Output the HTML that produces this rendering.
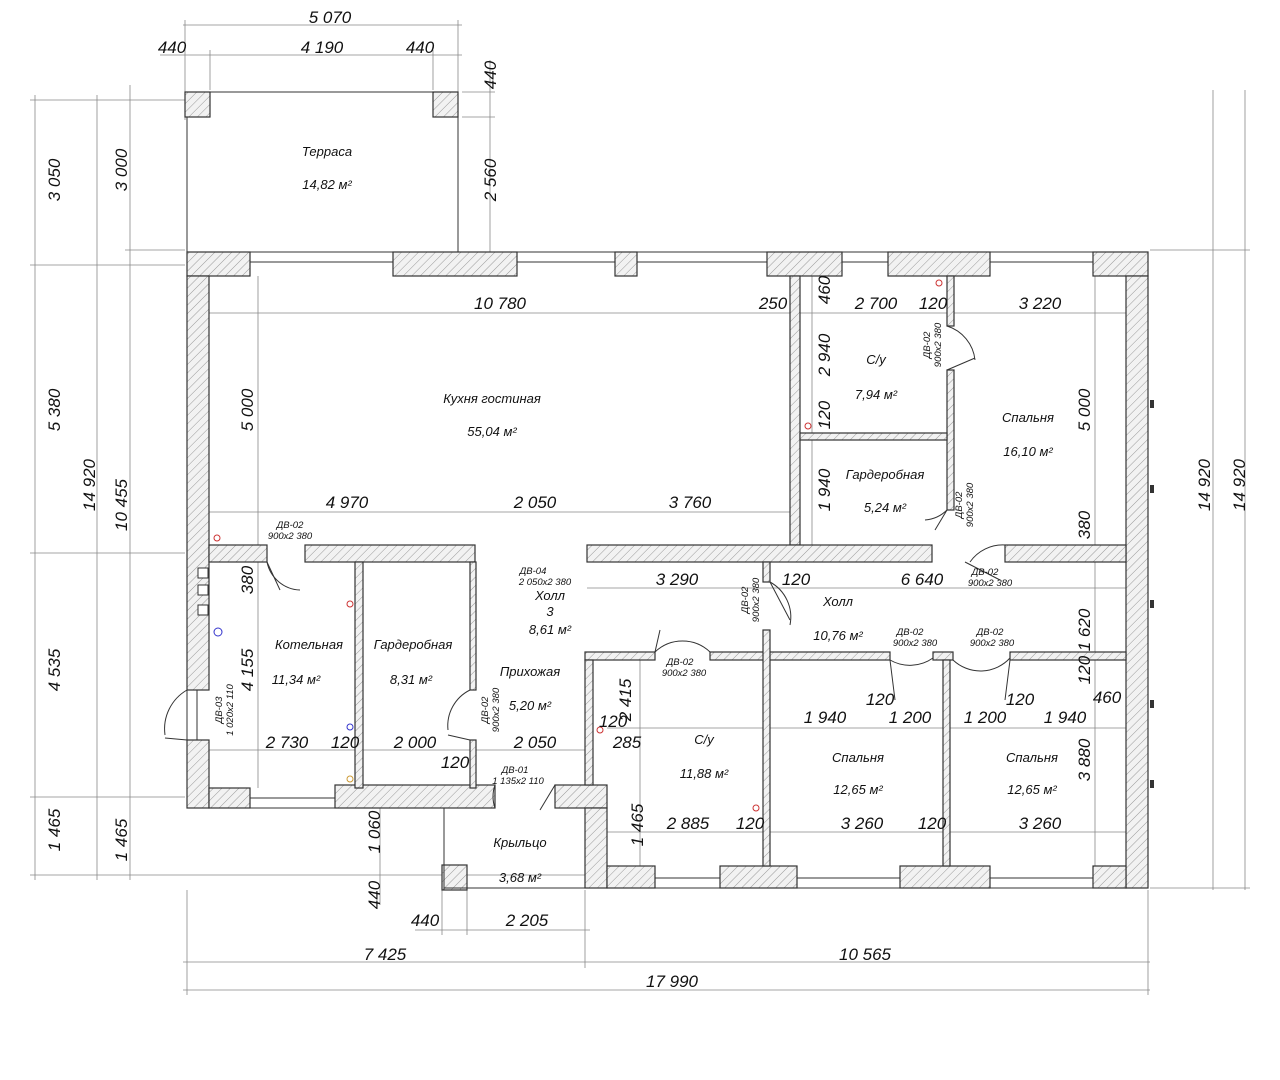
<!DOCTYPE html>
<html><head><meta charset="utf-8"><style>
html,body{margin:0;padding:0;background:#fff}
svg{display:block}
text{font-family:"Liberation Sans",sans-serif;font-style:italic;fill:#111}
.d{font-size:17px;text-anchor:middle}
.r{font-size:13px;text-anchor:middle}
.s{font-size:9.5px;text-anchor:middle}
.w{fill:url(#h);stroke:#333;stroke-width:1.2}
.l{stroke:#888;stroke-width:0.8;fill:none}
.k{stroke:#333;stroke-width:1;fill:none}
</style></head><body>
<svg width="1280" height="1080" viewBox="0 0 1280 1080" xmlns="http://www.w3.org/2000/svg">
<defs>
<pattern id="h" width="6" height="6" patternUnits="userSpaceOnUse" patternTransform="rotate(45)">
<rect width="6" height="6" fill="#f2f2f2"/><line x1="0" y1="0" x2="0" y2="6" stroke="#999" stroke-width="1"/>
</pattern>
</defs>

<g class="l">
<line x1="183" y1="25" x2="462" y2="25"/><line x1="160" y1="55" x2="462" y2="55"/>
<line x1="185" y1="20" x2="185" y2="120"/><line x1="210" y1="50" x2="210" y2="90"/><line x1="433" y1="50" x2="433" y2="90"/><line x1="458" y1="20" x2="458" y2="250"/>
<line x1="490" y1="60" x2="490" y2="252"/><line x1="462" y1="92" x2="495" y2="92"/><line x1="462" y1="117" x2="495" y2="117"/>
<line x1="35" y1="95" x2="35" y2="880"/><line x1="97" y1="95" x2="97" y2="880"/><line x1="130" y1="85" x2="130" y2="880"/>
<line x1="30" y1="100" x2="185" y2="100"/><line x1="30" y1="265" x2="185" y2="265"/><line x1="30" y1="553" x2="185" y2="553"/><line x1="30" y1="797" x2="185" y2="797"/><line x1="30" y1="875" x2="585" y2="875"/>
<line x1="125" y1="250" x2="185" y2="250"/>
<line x1="1213" y1="90" x2="1213" y2="890"/><line x1="1245" y1="90" x2="1245" y2="890"/>
<line x1="1150" y1="250" x2="1250" y2="250"/><line x1="1150" y1="888" x2="1250" y2="888"/>
<line x1="183" y1="962" x2="1150" y2="962"/><line x1="183" y1="990" x2="1150" y2="990"/>
<line x1="187" y1="890" x2="187" y2="995"/><line x1="585" y1="890" x2="585" y2="968"/><line x1="1148" y1="890" x2="1148" y2="995"/>
<line x1="415" y1="930" x2="590" y2="930"/><line x1="442" y1="890" x2="442" y2="935"/><line x1="467" y1="890" x2="467" y2="935"/>
<line x1="380" y1="800" x2="380" y2="905"/>
<line x1="209" y1="313" x2="1126" y2="313"/><line x1="209" y1="512" x2="790" y2="512"/>
<line x1="587" y1="588" x2="1126" y2="588"/><line x1="209" y1="750" x2="585" y2="750"/>
<line x1="607" y1="728" x2="1126" y2="728"/><line x1="607" y1="832" x2="1126" y2="832"/>
<line x1="258" y1="276" x2="258" y2="788"/><line x1="812" y1="276" x2="812" y2="545"/><line x1="1095" y1="276" x2="1095" y2="866"/>
<line x1="640" y1="655" x2="640" y2="866"/>
</g>

<g class="k">
<line x1="187" y1="92" x2="458" y2="92"/><line x1="187" y1="92" x2="187" y2="252"/><line x1="458" y1="92" x2="458" y2="252"/>
<rect x="185" y="92" width="25" height="25" class="w"/><rect x="433" y="92" width="25" height="25" class="w"/>
<rect x="442" y="865" width="25" height="25" class="w"/>
<line x1="444" y1="808" x2="444" y2="890"/><line x1="444" y1="888" x2="585" y2="888"/>
</g>

<g class="k">
<rect x="250" y="252" width="145" height="10"/><rect x="517" y="252" width="100" height="10"/><rect x="637" y="252" width="132" height="10"/>
<rect x="842" y="252" width="48" height="10"/><rect x="990" y="252" width="105" height="10"/>
<rect x="250" y="798" width="88" height="10"/>
<rect x="655" y="878" width="67" height="10"/><rect x="797" y="878" width="105" height="10"/><rect x="990" y="878" width="105" height="10"/>
<rect x="187" y="690" width="10" height="50"/>
</g>

<g class="w">
<rect x="187" y="252" width="63" height="24"/>
<rect x="393" y="252" width="124" height="24"/>
<rect x="615" y="252" width="22" height="24"/>
<rect x="767" y="252" width="75" height="24"/>
<rect x="888" y="252" width="102" height="24"/>
<rect x="1093" y="252" width="55" height="24"/>
<rect x="187" y="276" width="22" height="414"/>
<rect x="187" y="740" width="22" height="68"/>
<rect x="1126" y="276" width="22" height="612"/>
<rect x="209" y="788" width="41" height="20"/>
<rect x="335" y="785" width="160" height="23"/>
<rect x="555" y="785" width="52" height="23"/>
<rect x="585" y="808" width="22" height="80"/>
<rect x="607" y="866" width="48" height="22"/>
<rect x="720" y="866" width="77" height="22"/>
<rect x="900" y="866" width="90" height="22"/>
<rect x="1093" y="866" width="33" height="22"/>
<rect x="790" y="276" width="10" height="269"/>
<rect x="947" y="276" width="7" height="50"/>
<rect x="947" y="370" width="7" height="140"/>
<rect x="800" y="433" width="147" height="7"/>
<rect x="209" y="545" width="58" height="17"/>
<rect x="305" y="545" width="170" height="17"/>
<rect x="587" y="545" width="345" height="17"/>
<rect x="1005" y="545" width="121" height="17"/>
<rect x="355" y="562" width="8" height="226"/>
<rect x="470" y="562" width="6" height="128"/>
<rect x="470" y="740" width="6" height="48"/>
<rect x="585" y="652" width="70" height="8"/>
<rect x="710" y="652" width="180" height="8"/>
<rect x="933" y="652" width="20" height="8"/>
<rect x="1010" y="652" width="116" height="8"/>
<rect x="585" y="660" width="8" height="125"/>
<rect x="763" y="562" width="7" height="20"/>
<rect x="763" y="630" width="7" height="236"/>
<rect x="943" y="660" width="7" height="206"/>
</g>

<g class="k">
<path d="M267 562 A35 35 0 0 0 300 590"/><line x1="267" y1="562" x2="280" y2="590"/>
<path d="M947 326 A40 40 0 0 1 975 360"/><line x1="947" y1="370" x2="975" y2="358"/>
<path d="M947 510 A35 35 0 0 1 925 520"/><line x1="947" y1="510" x2="935" y2="530"/>
<path d="M970 562 A40 40 0 0 1 1005 545"/><line x1="965" y1="562" x2="1000" y2="580"/>
<path d="M770 582 A40 40 0 0 1 790 625"/><line x1="770" y1="582" x2="790" y2="620"/>
<path d="M890 660 A40 40 0 0 0 933 658"/><line x1="890" y1="660" x2="895" y2="700"/>
<path d="M953 660 A40 40 0 0 0 1010 658"/><line x1="1010" y1="660" x2="1005" y2="700"/>
<path d="M655 652 A40 40 0 0 1 710 652"/><line x1="655" y1="652" x2="660" y2="630"/>
<path d="M470 690 A40 40 0 0 0 448 730"/><line x1="470" y1="740" x2="448" y2="735"/>
<path d="M187 690 A45 45 0 0 0 165 735"/><line x1="187" y1="740" x2="165" y2="738"/>
<path d="M495 785 A35 35 0 0 0 495 808"/><line x1="555" y1="785" x2="540" y2="810"/>
</g>

<g fill="none" stroke-width="1">
<circle cx="217" cy="538" r="3" stroke="#c33"/><circle cx="350" cy="604" r="3" stroke="#c33"/>
<circle cx="350" cy="727" r="3" stroke="#33c"/><circle cx="350" cy="779" r="3" stroke="#c93"/>
<circle cx="218" cy="632" r="4" stroke="#33c"/>
<circle cx="939" cy="283" r="3" stroke="#c33"/><circle cx="808" cy="426" r="3" stroke="#c33"/>
<circle cx="600" cy="730" r="3" stroke="#c33"/><circle cx="756" cy="808" r="3" stroke="#c33"/>
</g>
<g fill="#fff" stroke="#333"><rect x="198" y="568" width="10" height="10"/><rect x="198" y="585" width="10" height="10"/><rect x="198" y="605" width="10" height="10"/></g>

<g class="d">
<text x="330" y="23">5 070</text><text x="172" y="53">440</text><text x="322" y="53">4 190</text><text x="420" y="53">440</text>
<text transform="translate(496,75) rotate(-90)">440</text>
<text transform="translate(496,180) rotate(-90)">2 560</text>
<text transform="translate(127,170) rotate(-90)">3 000</text>
<text transform="translate(60,180) rotate(-90)">3 050</text>
<text transform="translate(60,410) rotate(-90)">5 380</text>
<text transform="translate(60,670) rotate(-90)">4 535</text>
<text transform="translate(60,830) rotate(-90)">1 465</text>
<text transform="translate(95,485) rotate(-90)">14 920</text>
<text transform="translate(127,505) rotate(-90)">10 455</text>
<text transform="translate(127,840) rotate(-90)">1 465</text>
<text transform="translate(1210,485) rotate(-90)">14 920</text>
<text transform="translate(1245,485) rotate(-90)">14 920</text>
<text x="385" y="960">7 425</text><text x="865" y="960">10 565</text><text x="672" y="987">17 990</text>
<text x="425" y="926">440</text><text x="527" y="926">2 205</text>
<text transform="translate(380,895) rotate(-90)">440</text>
<text transform="translate(380,832) rotate(-90)">1 060</text>
<text x="500" y="309">10 780</text><text x="773" y="309">250</text>
<text transform="translate(830,290) rotate(-90)">460</text>
<text x="876" y="309">2 700</text><text x="933" y="309">120</text><text x="1040" y="309">3 220</text>
<text transform="translate(830,355) rotate(-90)">2 940</text>
<text transform="translate(830,415) rotate(-90)">120</text>
<text transform="translate(1090,410) rotate(-90)">5 000</text>
<text transform="translate(253,410) rotate(-90)">5 000</text>
<text x="347" y="508">4 970</text><text x="535" y="508">2 050</text><text x="690" y="508">3 760</text>
<text transform="translate(830,490) rotate(-90)">1 940</text>
<text transform="translate(1090,525) rotate(-90)">380</text>
<text transform="translate(253,580) rotate(-90)">380</text>
<text x="677" y="585">3 290</text><text x="796" y="585">120</text><text x="922" y="585">6 640</text>
<text transform="translate(1090,630) rotate(-90)">1 620</text>
<text transform="translate(1090,670) rotate(-90)">120</text>
<text x="1107" y="703">460</text>
<text transform="translate(253,670) rotate(-90)">4 155</text>
<text x="287" y="748">2 730</text><text x="345" y="748">120</text><text x="415" y="748">2 000</text>
<text x="455" y="768">120</text><text x="535" y="748">2 050</text>
<text transform="translate(631,700) rotate(-90)">2 415</text>
<text x="613" y="727">120</text><text x="627" y="748">285</text>
<text transform="translate(643,825) rotate(-90)">1 465</text>
<text x="688" y="829">2 885</text><text x="750" y="829">120</text>
<text x="825" y="723">1 940</text><text x="880" y="705">120</text><text x="910" y="723">1 200</text>
<text x="985" y="723">1 200</text><text x="1020" y="705">120</text><text x="1065" y="723">1 940</text>
<text transform="translate(1090,760) rotate(-90)">3 880</text>
<text x="862" y="829">3 260</text><text x="932" y="829">120</text><text x="1040" y="829">3 260</text>
</g>

<g class="r">
<text x="327" y="156">Терраса</text><text x="327" y="189">14,82 м²</text>
<text x="492" y="403">Кухня гостиная</text><text x="492" y="436">55,04 м²</text>
<text x="876" y="364">С/у</text><text x="876" y="399">7,94 м²</text>
<text x="1028" y="422">Спальня</text><text x="1028" y="456">16,10 м²</text>
<text x="885" y="479">Гардеробная</text><text x="885" y="512">5,24 м²</text>
<text x="550" y="600">Холл</text><text x="550" y="616">3</text><text x="550" y="634">8,61 м²</text>
<text x="838" y="606">Холл</text><text x="838" y="640">10,76 м²</text>
<text x="309" y="649">Котельная</text><text x="296" y="684">11,34 м²</text>
<text x="413" y="649">Гардеробная</text><text x="411" y="684">8,31 м²</text>
<text x="530" y="676">Прихожая</text><text x="530" y="710">5,20 м²</text>
<text x="704" y="744">С/у</text><text x="704" y="778">11,88 м²</text>
<text x="858" y="762">Спальня</text><text x="858" y="794">12,65 м²</text>
<text x="1032" y="762">Спальня</text><text x="1032" y="794">12,65 м²</text>
<text x="520" y="847">Крыльцо</text><text x="520" y="882">3,68 м²</text>
</g>

<g class="s">
<text x="290" y="528">ДВ-02</text><text x="290" y="539">900x2 380</text>
<text x="533" y="574">ДВ-04</text><text x="545" y="585">2 050x2 380</text>
<text x="985" y="575">ДВ-02</text><text x="990" y="586">900x2 380</text>
<text x="910" y="635">ДВ-02</text><text x="915" y="646">900x2 380</text>
<text x="990" y="635">ДВ-02</text><text x="992" y="646">900x2 380</text>
<text x="680" y="665">ДВ-02</text><text x="684" y="676">900x2 380</text>
<text x="515" y="773">ДВ-01</text><text x="518" y="784">1 135x2 110</text>
<text transform="translate(930,345) rotate(-90)">ДВ-02</text><text transform="translate(941,345) rotate(-90)">900x2 380</text>
<text transform="translate(962,505) rotate(-90)">ДВ-02</text><text transform="translate(973,505) rotate(-90)">900x2 380</text>
<text transform="translate(748,600) rotate(-90)">ДВ-02</text><text transform="translate(759,600) rotate(-90)">900x2 380</text>
<text transform="translate(488,710) rotate(-90)">ДВ-02</text><text transform="translate(499,710) rotate(-90)">900x2 380</text>
<text transform="translate(222,710) rotate(-90)">ДВ-03</text><text transform="translate(233,710) rotate(-90)">1 020x2 110</text>
</g>
<g fill="#333"><rect x="1150" y="400" width="4" height="8"/><rect x="1150" y="485" width="4" height="8"/><rect x="1150" y="600" width="4" height="8"/><rect x="1150" y="700" width="4" height="8"/><rect x="1150" y="780" width="4" height="8"/></g>
</svg>
</body></html>
